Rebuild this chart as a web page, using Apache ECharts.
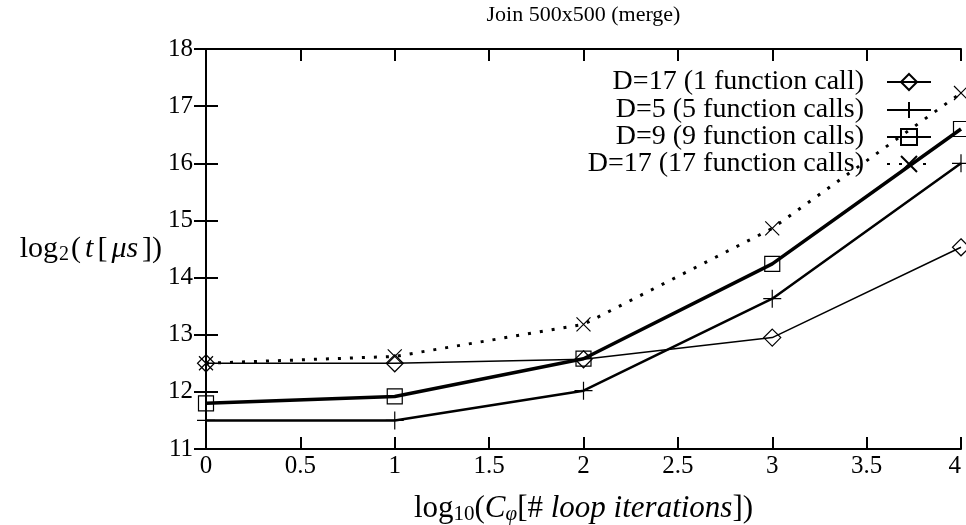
<!DOCTYPE html>
<html><head><meta charset="utf-8">
<script src="https://cdn.jsdelivr.net/npm/echarts@6/dist/echarts.min.js"></script>
<style>html,body{margin:0;padding:0;background:#fff;overflow:hidden}#c{width:966px;height:525px}</style>
</head><body><div id="c"></div>
<script>
const xVals = [0, 1, 2, 3, 4];
const seriesNames = ["D=17 (1 function call)", "D=5 (5 function calls)", "D=9 (9 function calls)", "D=17 (17 function calls)"];
const d17one = [12.5, 12.5, 12.57, 12.95, 14.53];
const d5 = [11.5, 11.5, 12.02, 13.63, 16.0];
const d9 = [11.8, 11.92, 12.58, 14.24, 16.6];
const d17 = [12.5, 12.62, 13.18, 14.86, 17.23];
const titleText = "Join 500x500 (merge)";

const FONT = "Liberation Serif";
const pairs = ys => xVals.map((x, i) => [x, ys[i]]);
const PLUS = "path://M0,5L10,5M5,0L5,10";
const CROSS = "path://M0,0L10,10M10,0L0,10";

const mk = (name, data, symbol, size, lw, ltype) => ({
  name, type: "line", data: pairs(data), symbol, symbolSize: size, clip: false,
  lineStyle: { color: "#000", width: lw, type: ltype },
  itemStyle: { color: "rgba(0,0,0,0)", borderColor: "#000", borderWidth: 1.2 },
  emphasis: { disabled: true }, z: 3
});

const legendTops = [68, 96, 123, 150];
const chart = echarts.init(document.getElementById("c"), null, { renderer: "canvas" });
chart.setOption({
  animation: false,
  grid: { left: 206, right: 5, top: 49, bottom: 76, containLabel: false, outerBoundsMode: "none" },
  legend: seriesNames.map((n, i) => ({
    data: [n], right: 34, top: legendTops[i], align: "right", orient: "vertical",
    itemWidth: 44, itemHeight: 20, padding: 0,
    textStyle: { fontFamily: FONT, fontSize: 28, color: "#000", padding: [0, 18, 0, 0] },
    selectedMode: false
  })),
  xAxis: [
    { type: "value", min: 0, max: 4, interval: 0.5, position: "bottom",
      name: "{n|log}{s|10}{n|(}{i|C}{si|φ}{n|[# }{i|loop iterations}{n|])}",
      nameLocation: "middle", nameGap: 43,
      nameTextStyle: { rich: {
        n: { fontFamily: FONT, fontSize: 31, color: "#000" },
        i: { fontFamily: FONT, fontSize: 31, fontStyle: "italic", color: "#000" },
        s: { fontFamily: FONT, fontSize: 21, color: "#000", padding: [12, 0, 0, 0] },
        si: { fontFamily: FONT, fontSize: 21, fontStyle: "italic", color: "#000", padding: [12, 0, 0, 0] }
      } },
      axisLine: { lineStyle: { color: "#000", width: 2 } },
      axisTick: { inside: true, length: 12, lineStyle: { color: "#000", width: 2 } },
      axisLabel: { fontFamily: FONT, fontSize: 25, color: "#000", margin: 5, alignMaxLabel: "right" },
      splitLine: { show: false } },
    { type: "value", min: 0, max: 4, interval: 0.5, position: "top",
      name: titleText, nameLocation: "middle", nameGap: 23,
      nameTextStyle: { fontFamily: FONT, fontSize: 22, color: "#000" },
      axisLine: { lineStyle: { color: "#000", width: 2 } },
      axisTick: { inside: true, length: 12, lineStyle: { color: "#000", width: 2 } },
      axisLabel: { show: false }, splitLine: { show: false } }
  ],
  yAxis: [
    { type: "value", min: 11, max: 18, interval: 1, position: "left",
      name: "{n|log}{s|2}{n|(}{i|t}{n|[}{i|μs}{n|])}", nameLocation: "middle", nameRotate: 0, nameGap: 41,
      nameTextStyle: { rich: {
        n: { fontFamily: FONT, fontSize: 30, color: "#000" },
        i: { fontFamily: FONT, fontSize: 30, fontStyle: "italic", color: "#000", padding: [0, 4, 0, 4] },
        s: { fontFamily: FONT, fontSize: 20, color: "#000", padding: [12, 2, 0, 1] }
      } },
      axisLine: { lineStyle: { color: "#000", width: 2 } },
      axisTick: { inside: true, length: 12, lineStyle: { color: "#000", width: 2 } },
      axisLabel: { fontFamily: FONT, fontSize: 25, color: "#000", margin: 13 },
      splitLine: { show: false } },
    { type: "value", min: 11, max: 18, interval: 1, position: "right",
      axisLine: { show: true, lineStyle: { color: "#000", width: 2 } },
      axisTick: { show: true, inside: true, length: 12, lineStyle: { color: "#000", width: 2 } },
      axisLabel: { show: false }, splitLine: { show: false } }
  ],
  series: [
    mk(seriesNames[0], d17one, "diamond", 17, 1.5, "solid"),
    mk(seriesNames[1], d5, PLUS, 18, 2.5, "solid"),
    mk(seriesNames[2], d9, "rect", 15, 3.5, "solid"),
    mk(seriesNames[3], d17, CROSS, 14, 3, [3, 9])
  ]
});
</script></body></html>
